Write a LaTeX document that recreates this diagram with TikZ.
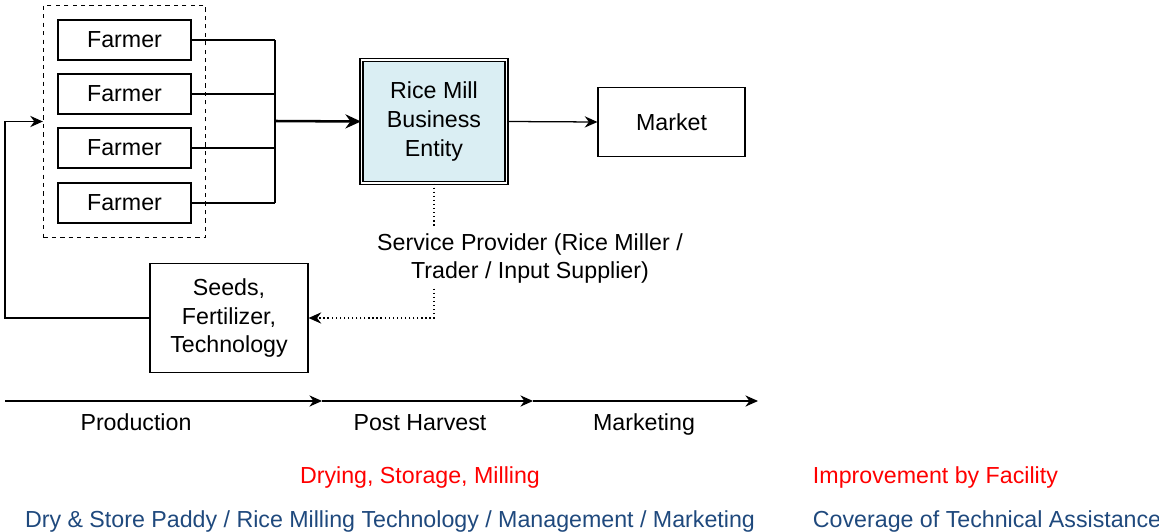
\documentclass[tikz,border=0pt]{standalone}
\usepackage{fontspec}
\setmainfont{Liberation Sans}
\usetikzlibrary{arrows.meta,positioning,fit}
\definecolor{millblue}{HTML}{DAEEF3}
\definecolor{tablue}{HTML}{1F497D}

\begin{document}
\begin{tikzpicture}[x=0.025cm,y=-0.025cm,
    every node/.style={font=\fontsize{16.5}{20.5}\selectfont},
    box/.style={draw,rectangle,line width=0.8pt,align=center,inner sep=0pt},
    farmer/.style={box,minimum width=3.325cm,minimum height=1cm},
    label/.style={anchor=base},
    link/.style={line width=0.9pt},
    arr/.style={link,-{Stealth[length=9pt,width=8pt]}}]
    \clip (0,0) rectangle (1159,532);
    % farmer group
    \node[farmer] (f1) at (124.5,40) {Farmer};
    \node[farmer] (f2) at (124.5,94) {Farmer};
    \node[farmer] (f3) at (124.5,148) {Farmer};
    \node[farmer] (f4) at (124.5,203) {Farmer};
    \node[draw,dashed,line width=0.8pt,fit=(f1)(f4),inner sep=0.35cm] (group) {};
    % main chain
    \node[box,fill=millblue,double,double distance=1.3pt,
      minimum width=3.625cm,minimum height=3.075cm] (mill) at (434,121.5)
      {Rice Mill\\Business\\Entity};
    \node[box,minimum width=3.675cm,minimum height=1.725cm] (market) at (671.5,122) {Market};
    \node[box,minimum width=3.95cm,minimum height=2.725cm] (inputs) at (229,318)
      {Seeds,\\Fertilizer,\\Technology};
    \node[align=center] (service) at (530,258.5)
      {Service Provider (Rice Miller /\\Trader / Input Supplier)};
    % joining the farmers
    \coordinate (bus) at (275,121);
    \foreach \f in {f1,f2,f3,f4}
      \draw[link] (\f.east) -- (\f.east -| bus);
    \draw[link] (f1.east -| bus) -- (f4.east -| bus);
    \draw[link,line width=1.8pt,-{Stealth[length=11pt,width=10pt]}] (bus) -- (mill.west);
    \draw[arr] (mill.east) -- (market.west);
    % service provider support
    \draw[link,dotted] (mill.south) -- (mill.south |- service.north);
    \draw[arr,dotted] (mill.south |- service.south) |- (inputs.east);
    \coordinate (back) at (5,320);
    \draw[arr] (inputs.west) -- (inputs.west -| back) |- (group.west);
    % stages
    \coordinate (t0) at (5,401);
    \coordinate (t1) at (322,401);
    \coordinate (t2) at (533,401);
    \coordinate (t3) at (758,401);
    \draw[arr] (t0) -- (t1);
    \draw[arr] (t1) -- (t2);
    \draw[arr] (t2) -- (t3);
    \node[label] (production) at (136,430) {Production};
    \node[label] (postharvest) at (420,430) {Post Harvest};
    \node[label] (marketing) at (644,430) {Marketing};
    % improvements
    \node[label,text=red] (facility) at (420,483) {Drying, Storage, Milling};
    \node[label,text=red,anchor=base west] (byfacility) at (808,483) {Improvement by Facility};
    \node[label,text=tablue] (topics) at (390,527)
      {Dry \& Store Paddy / Rice Milling Technology / Management / Marketing};
    \node[label,text=tablue,anchor=base west] (coverage) at (808,527) {Coverage of Technical Assistance};
\end{tikzpicture}
\end{document}
